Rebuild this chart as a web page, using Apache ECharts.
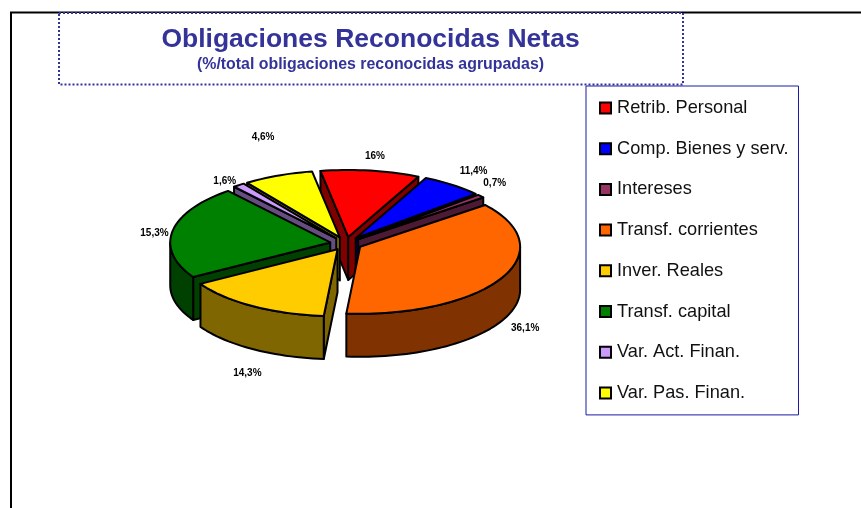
<!DOCTYPE html>
<html><head><meta charset="utf-8">
<style>html,body{margin:0;padding:0;background:#fff}#c{width:861px;height:508px}</style>
<script src="https://cdn.jsdelivr.net/npm/echarts@6/dist/echarts.min.js"></script>
</head><body><div id="c"></div>
<script>
const categories = ['Retrib. Personal','Comp. Bienes y serv.','Intereses','Transf. corrientes','Inver. Reales','Transf. capital','Var. Act. Finan.','Var. Pas. Finan.'];
// Percentages printed on the chart's labels
const labelValues = [16, 11.4, 0.7, 36.1, 14.3, 15.3, 1.6, 4.6];
// Slice sizes as drawn in the picture (they differ from the printed labels)
const drawnShares = [10, 6.25, 0.8, 37.1, 15, 22.6, 1.2, 7.05];
const topColors = ['#FF0000','#0000FF','#993366','#FF6600','#FFCC00','#008000','#CC99FF','#FFFF00'];
const wallColors = ['#800000','#000080','#4D1A33','#803300','#806600','#004000','#664D80','#808000'];
const labelNudges = [[4.5,-14],[21,-14],[14,-13],[24,50],[-5.5,67],[-18,1.5],[-14,-3.6],[-15,-38]];

const pie = {cx:346, cy:243.6, rx:160, ry:67, depth:43, explode:0.1, firstAngle:-10};
const rad = d => d*Math.PI/180;

let acc = pie.firstAngle;
const slices = drawnShares.map((s,i)=>{
  const start = acc, end = acc + s*3.6; acc = end;
  return {i, start, end, mid:(start+end)/2};
});
function renderSlice(s){
  return function(){
    const m = rad(s.mid);
    const ax = pie.cx + pie.explode*pie.rx*Math.sin(m), ay = pie.cy - pie.explode*pie.ry*Math.cos(m);
    const pt = (d,dz=0)=>[ax+pie.rx*Math.sin(rad(d)), ay-pie.ry*Math.cos(rad(d))+dz];
    const arc = (a,b,dz=0)=>{const n=Math.max(2,Math.ceil((b-a)/2)),r=[];for(let k=0;k<=n;k++)r.push(pt(a+(b-a)*k/n,dz));return r;};
    const base = {stroke:'#000',lineWidth:2,lineJoin:'round'};
    const wall = {...base,fill:wallColors[s.i]};
    const kids = [];
    const quad = d => ({type:'polygon',shape:{points:[[ax,ay],pt(d),pt(d,pie.depth),[ax,ay+pie.depth]]},style:wall});
    // visible cut faces
    if(Math.sin(rad(s.start))<0) kids.push(quad(s.start));
    if(Math.sin(rad(s.end))>0) kids.push(quad(s.end));
    // visible outer wall (front half of the rim)
    [[90,270],[450,630]].forEach(([lo,hi])=>{
      const a=Math.max(s.start,lo), b=Math.min(s.end,hi);
      if(b>a) kids.push({type:'polygon',shape:{points:arc(a,b).concat(arc(a,b,pie.depth).reverse())},style:wall});
    });
    kids.push({type:'polygon',shape:{points:[[ax,ay]].concat(arc(s.start,s.end))},style:{...base,fill:topColors[s.i]}});
    const rim = pt(s.mid);
    kids.push({type:'text',z2:100,style:{
      text:String(labelValues[s.i]).replace('.',',')+'%',
      x:rim[0]+labelNudges[s.i][0], y:rim[1]+labelNudges[s.i][1],
      align:'center',verticalAlign:'middle',fill:'#000',
      font:'bold 10px "Liberation Sans", Arial, sans-serif'}});
    return {type:'group',children:kids};
  };
}
// Painter's order: back of the pie first
const order = slices.slice().sort((a,b)=>Math.cos(rad(b.mid))-Math.cos(rad(a.mid)));

const chart = echarts.init(document.getElementById('c'),null,{renderer:'canvas'});
chart.setOption({
  animation:false,
  backgroundColor:'#fff',
  title:{
    text:'Obligaciones Reconocidas Netas',
    subtext:'(%/total obligaciones reconocidas agrupadas)',
    left:370.5, top:25, textAlign:'center', itemGap:3, padding:0, z:10,
    textStyle:{fontFamily:'"Liberation Sans", Arial, sans-serif',fontWeight:'bold',fontSize:26.5,color:'#333399',lineHeight:29},
    subtextStyle:{fontFamily:'"Liberation Sans", Arial, sans-serif',fontWeight:'bold',fontSize:15.9,color:'#333399',lineHeight:15}
  },
  legend:{
    data:categories, orient:'vertical', left:586, top:86,
    padding:[12.5,10,12.5,13], itemGap:21.7, itemWidth:11, itemHeight:11, icon:'rect',
    backgroundColor:'#fff', borderColor:'#1A1AA6', borderWidth:1, borderRadius:0,
    itemStyle:{borderColor:'#000',borderWidth:2},
    selectedMode:false,
    textStyle:{fontFamily:'"Liberation Sans", Arial, sans-serif',fontSize:18.2,color:'#111',padding:[0,0,0,1],lineHeight:19}
  },
  graphic:[
    {type:'polyline',z:0,shape:{points:[[861,12.5],[11,12.5],[11,508]]},style:{stroke:'#000',lineWidth:2,fill:null}},
    {type:'rect',z:1,shape:{x:59,y:13,width:624,height:71.5},style:{fill:'#fff',stroke:'#333399',lineWidth:2,lineDash:[2,2]}}
  ],
  series: order.map(s=>({
    type:'custom', name:categories[s.i], coordinateSystem:'none', silent:true, clip:false,
    itemStyle:{color:topColors[s.i]}, data:[labelValues[s.i]], renderItem:renderSlice(s)
  }))
});
</script></body></html>
